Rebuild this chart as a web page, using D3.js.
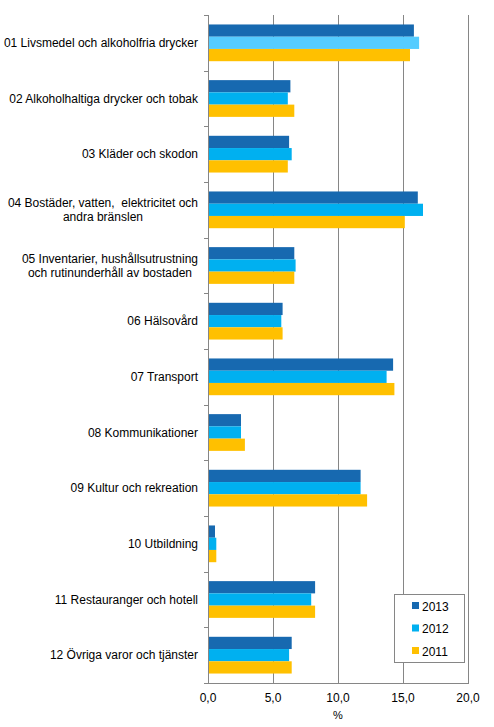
<!DOCTYPE html>
<html>
<head>
<meta charset="utf-8">
<script src="https://cdn.jsdelivr.net/npm/d3@7"></script>
<style>
  body { margin: 0; background: #fff; }
  text { font-family: Arial, "Liberation Sans", sans-serif; fill: #000; white-space: pre; }
</style>
</head>
<body>
<div class="canvas"></div>
<script>
// data
const categories = [
  '01 Livsmedel och alkoholfria drycker',
  '02 Alkoholhaltiga drycker och tobak',
  '03 Kläder och skodon',
  '04 Bostäder, vatten,  elektricitet och|andra bränslen',
  '05 Inventarier, hushållsutrustning|och rutinunderhåll av bostaden',
  '06 Hälsovård',
  '07 Transport',
  '08 Kommunikationer',
  '09 Kultur och rekreation',
  '10 Utbildning',
  '11 Restauranger och hotell',
  '12 Övriga varor och tjänster'
];
const years = ['2013', '2012', '2011'];
const values2013 = [15.8, 6.3, 6.2, 16.1, 6.6, 5.7, 14.2, 2.5, 11.7, 0.5, 8.2, 6.4];
const values2012 = [16.2, 6.1, 6.4, 16.5, 6.7, 5.6, 13.7, 2.5, 11.7, 0.6, 7.9, 6.2];
const values2011 = [15.5, 6.6, 6.1, 15.1, 6.6, 5.7, 14.3, 2.8, 12.2, 0.6, 8.2, 6.4];
const xTicks = [0, 5, 10, 15, 20];

const seriesValues = { '2013': values2013, '2012': values2012, '2011': values2011 };
const colors = { '2013': '#1769b0', '2012': '#00b0f0', '2011': '#ffc000' };

const width = 494, height = 727;
const margin = { top: 15, right: 26, bottom: 44, left: 208 };
const graphWidth = width - margin.left - margin.right;
const graphHeight = height - margin.top - margin.bottom;

const svg = d3.select('.canvas')
  .append('svg')
  .attr('width', width)
  .attr('height', height);

const graph = svg.append('g')
  .attr('transform', `translate(${margin.left},${margin.top})`);

const x = d3.scaleLinear()
  .domain([0, 20])
  .range([0, graphWidth]);

const y = d3.scaleBand()
  .domain(categories)
  .range([0, graphHeight])
  .paddingInner(0.34)
  .paddingOuter(0.17);

const ySub = d3.scaleBand()
  .domain(years)
  .range([0, y.bandwidth()]);

// grid lines
graph.selectAll('line.grid')
  .data(xTicks.filter(d => d > 0))
  .enter()
  .append('line')
  .attr('class', 'grid')
  .attr('x1', d => x(d) + 0.5)
  .attr('x2', d => x(d) + 0.5)
  .attr('y1', 0)
  .attr('y2', graphHeight)
  .attr('stroke', '#868686');

// bars
const groups = graph.selectAll('g.cat')
  .data(categories)
  .enter()
  .append('g')
  .attr('class', 'cat')
  .attr('transform', d => `translate(0,${y(d)})`);

groups.selectAll('rect')
  .data((d, i) => years.map(yr => ({ yr, i, v: seriesValues[yr][i] })))
  .enter()
  .append('rect')
  .attr('x', 0.5)
  .attr('y', d => ySub(d.yr))
  .attr('width', d => x(d.v))
  .attr('height', ySub.bandwidth())
  .attr('fill', d => (d.i === 0 && d.yr === '2012') ? '#55ccff' : colors[d.yr]);

// y axis line with ticks at category boundaries
const step = y.step();
graph.append('line')
  .attr('x1', 0.5).attr('x2', 0.5)
  .attr('y1', 0).attr('y2', graphHeight)
  .attr('stroke', '#868686');
graph.selectAll('line.ytick')
  .data(d3.range(categories.length + 1))
  .enter()
  .append('line')
  .attr('class', 'ytick')
  .attr('x1', -4).attr('x2', 0.5)
  .attr('y1', d => Math.round(d * step) + 0.5)
  .attr('y2', d => Math.round(d * step) + 0.5)
  .attr('stroke', '#868686');

// x axis line
graph.append('line')
  .attr('x1', -4).attr('x2', graphWidth + 1)
  .attr('y1', graphHeight + 0.5).attr('y2', graphHeight + 0.5)
  .attr('stroke', '#868686');

graph.selectAll('text.xtick')
  .data(xTicks)
  .enter()
  .append('text')
  .attr('class', 'xtick')
  .attr('x', d => x(d))
  .attr('y', graphHeight + 19)
  .attr('text-anchor', 'middle')
  .style('font-size', '12px')
  .text(d => d3.format('.1f')(d).replace('.', ','));

graph.append('text')
  .attr('x', x(10))
  .attr('y', graphHeight + 36)
  .attr('text-anchor', 'middle')
  .style('font-size', '11px')
  .attr('fill', '#333')
  .text('%');

// category labels (multi-line labels centred on their longest line)
categories.forEach(c => {
  const lines = c.split('|');
  const cy = y(c) + y.bandwidth() / 2;
  const t = graph.append('text')
    .style('font-size', '12px')
    .attr('text-anchor', lines.length > 1 ? 'middle' : 'end');
  lines.forEach((ln, j) => {
    t.append('tspan')
      .attr('y', cy + 4 + (j - (lines.length - 1) / 2) * 14)
      .text(ln);
  });
  if (lines.length > 1) {
    const maxW = d3.max(t.selectAll('tspan').nodes(), n => n.getComputedTextLength());
    t.selectAll('tspan').attr('x', -10 - maxW / 2);
  } else {
    t.selectAll('tspan').attr('x', -10);
  }
});

// legend
const legend = svg.append('g')
  .attr('transform', 'translate(394,594)');
legend.append('rect')
  .attr('x', 0.5).attr('y', 0.5)
  .attr('width', 70).attr('height', 68)
  .attr('fill', '#fff')
  .attr('stroke', '#868686');
const items = legend.selectAll('g.item')
  .data(years)
  .enter()
  .append('g')
  .attr('class', 'item')
  .attr('transform', (d, i) => `translate(18,${12 + i * 22.5})`);
items.append('rect')
  .attr('x', 0).attr('y', -4)
  .attr('width', 7).attr('height', 7)
  .attr('fill', d => colors[d]);
items.append('text')
  .attr('x', 10).attr('y', 4.5)
  .style('font-size', '12px')
  .text(d => d);
</script>
</body>
</html>
